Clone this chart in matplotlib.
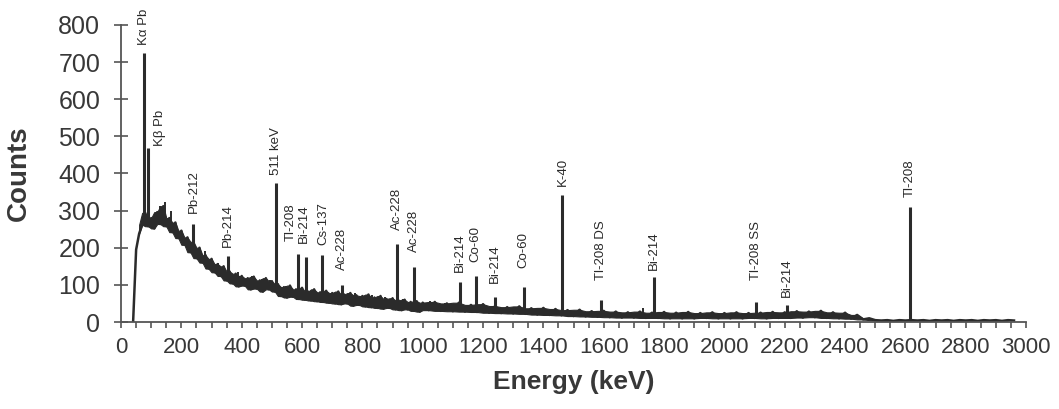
import numpy as np
import matplotlib
matplotlib.use("Agg")
from matplotlib import pyplot as plt

# continuum, 10 keV channels up to 1 MeV, then 20 keV channels
energy_lo = np.arange(40, 1001, 10)
counts_lo = [0, 195, 238, 262, 294, 258, 280, 252, 296, 264,
             312, 258, 280, 242, 268, 226, 246, 208, 228, 188,
             216, 172, 200, 160, 180, 144, 170, 134, 156, 124,
             150, 112, 136, 104, 130, 96, 124, 98, 118, 88,
             122, 90, 112, 82, 118, 88, 110, 82, 102, 70,
             94, 66, 98, 68, 88, 62, 92, 60, 82, 58,
             88, 56, 80, 54, 84, 52, 78, 50, 82, 48,
             74, 50, 78, 44, 72, 46, 70, 42, 74, 40,
             66, 38, 70, 36, 62, 38, 64, 34, 58, 32,
             60, 34, 54, 30, 56, 28, 52]
energy_hi = np.arange(1020, 2961, 20)
counts_hi = [32, 54, 30, 50, 29, 52, 28, 46, 27, 48,
             25, 43, 24, 40, 23, 42, 22, 37, 20, 38,
             19, 35, 18, 32, 16, 33, 15, 29, 14, 30,
             13, 28, 12, 26, 12, 28, 11, 25, 11, 27,
             10, 25, 10, 27, 10, 24, 11, 26, 10, 24,
             10, 26, 10, 24, 11, 25, 10, 27, 11, 26,
             11, 29, 12, 28, 13, 30, 11, 26, 10, 25,
             9, 19, 7, 10, 5, 4, 5, 3, 5, 4,
             5, 4, 5, 3, 5, 4, 5, 3, 5, 4,
             5, 3, 5, 4, 5, 3, 5, 4]

# identified lines
peak_labels = ["K\u03b1 Pb", "K\u03b2 Pb", "Pb-212", "Pb-214", "511 keV", "Tl-208",
               "Bi-214", "Cs-137", "Ac-228", "Ac-228", "Ac-228", "Bi-214",
               "Co-60", "Bi-214", "Co-60", "K-40", "Tl-208 DS", "Bi-214",
               "Tl-208 SS", "Bi-214", "Tl-208"]
peak_energy = [77, 88, 240, 355, 514, 586, 612, 665, 732, 914, 972, 1124,
               1176, 1240, 1335, 1463, 1592, 1766, 2104, 2206, 2614]
peak_height = [725, 470, 265, 178, 374, 183, 175, 180, 100, 210, 148, 108,
               124, 68, 94, 342, 59, 122, 55, 46, 311]
peak_base = [260, 265, 195, 120, 90, 75, 72, 68, 62, 48, 44, 36,
             34, 30, 27, 22, 20, 18, 17, 17, 4]

# unlabelled noise spikes
spike_energy = [146, 128, 165, 278, 320, 388, 434, 467, 494, 548, 776,
                832, 875, 935, 1024, 1074, 1382, 1410, 1650, 1729, 2280]
spike_height = [322, 312, 300, 190, 160, 135, 125, 115, 112, 98, 78,
                72, 68, 62, 56, 52, 36, 34, 28, 38, 30]
spike_base = [270, 270, 260, 160, 135, 110, 100, 95, 90, 75, 55,
              50, 45, 40, 38, 35, 22, 22, 17, 15, 18]

ink = "#2b2b2b"
txt = "#383838"

plt.rcParams['font.family'] = ['Liberation Sans', 'DejaVu Sans']

fig = plt.figure(figsize=(10.59, 4.09), dpi=100)
ax = fig.add_axes([0.1143, 0.2127, 0.8546, 0.7262])

energy = np.concatenate([energy_lo, energy_hi])
counts = np.array(counts_lo + counts_hi)

# shade between neighbouring channels so the noisy trace reads as a band
band_hi = np.maximum(counts[:-1], counts[1:])
band_lo = np.minimum(counts[:-1], counts[1:])
ax.fill_between(energy[2:-1], band_lo[2:], band_hi[2:], color=ink, lw=0.8)
ax.plot(energy, counts, color=ink, lw=1.8)

ax.vlines(peak_energy, peak_base, peak_height, color=ink, lw=2.2)
ax.vlines(spike_energy, spike_base, spike_height, color=ink, lw=1.4)

# label gaps (px) above each peak top, and sideways shifts (px)
gap_px = [8, 2, 11, 9, 8, 13, 14, 10, 15, 14, 15, 10, 14, 14, 19, 9, 20, 7, 22, 8, 10]
shift_px = {1: 12, 5: -7, 6: -2, 7: 2}
for i, lab in enumerate(peak_labels):
    ax.annotate(lab, xy=(peak_energy[i], peak_height[i]),
                xytext=(shift_px.get(i, 0) / 1.389, gap_px[i] / 1.389),
                textcoords='offset points', rotation=90, ha='center', va='bottom',
                fontsize=9.5, color='#2a2a2a', annotation_clip=False)

ax.set_xlim(0, 3000)
ax.set_ylim(0, 800)
ax.set_xticks(np.arange(0, 3001, 200))
ax.set_xticks(np.arange(0, 3001, 50), minor=True)
ax.set_yticks(np.arange(0, 801, 100))

for s in ['top', 'right']:
    ax.spines[s].set_visible(False)
for s in ['left', 'bottom']:
    ax.spines[s].set_color('#555555')
    ax.spines[s].set_linewidth(1.3)

ax.tick_params(axis='y', direction='inout', length=10, width=1.2, color='#555555',
               pad=10, labelsize=18, labelcolor=txt)
ax.tick_params(axis='x', which='both', direction='out', length=4.5, width=1.2,
               color='#555555', pad=6, labelsize=16, labelcolor=txt)

ax.set_ylabel("Counts", fontsize=20, fontweight='bold', color=txt)
ax.yaxis.set_label_coords(-0.098, 0.5)
ax.set_xlabel("Energy (keV)", fontsize=19, fontweight='bold', color=txt)
ax.xaxis.set_label_coords(0.5, -0.16)

fig.savefig("out.png", dpi=100, facecolor='white')
